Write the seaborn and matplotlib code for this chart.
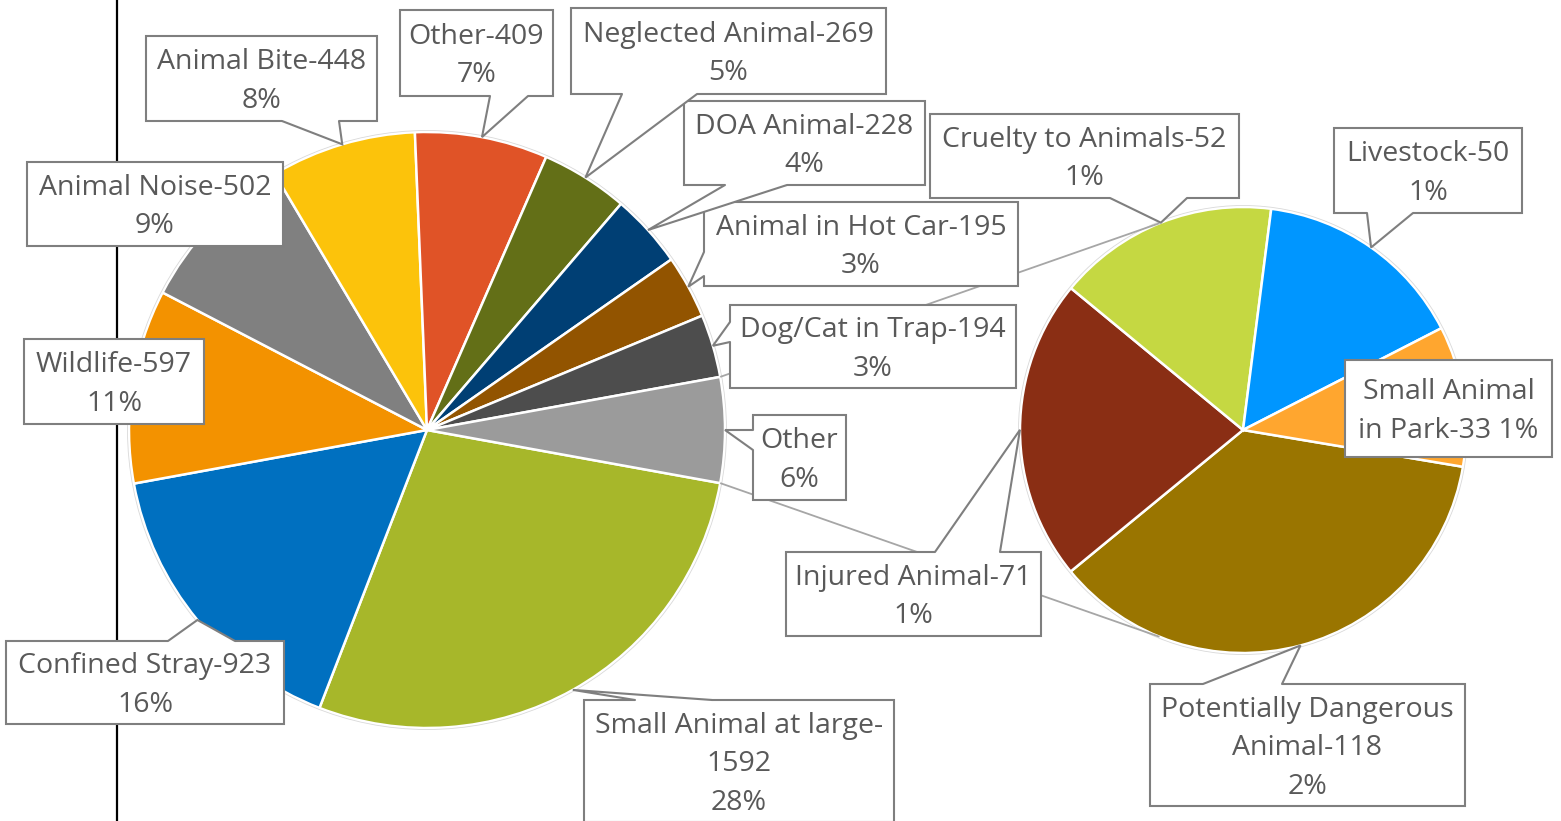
import numpy as np
import matplotlib.pyplot as plt
import seaborn as sns
from matplotlib.patches import Rectangle, Polygon, Circle

# main pie (clockwise from the lower edge of "Other")
main_labels = ["Small Animal at large", "Confined Stray", "Wildlife", "Animal Noise",
               "Animal Bite", "Other", "Neglected Animal", "DOA Animal",
               "Animal in Hot Car", "Dog/Cat in Trap"]
main_counts = [1592, 923, 597, 502, 448, 409, 269, 228, 195, 194]
main_colors = ["#A7B72A", "#0070C0", "#F39200", "#808080", "#FCC30B", "#E05327",
               "#636F17", "#003F74", "#925400", "#4D4D4D"]
other_color = "#9B9B9B"

# second pie: breakdown of "Other"
sub_labels = ["Potentially Dangerous Animal", "Injured Animal", "Cruelty to Animals",
              "Livestock", "Small Animal in Park"]
sub_counts = [118, 71, 52, 50, 33]
sub_colors = ["#9A7500", "#8A2E14", "#C5D842", "#0096FF", "#FFA62F"]

sns.set_theme(style="white")
plt.rcParams['font.family'] = ['Open Sans', 'DejaVu Sans']

W, H = 1561, 821
fig = plt.figure(figsize=(W / 100, H / 100), dpi=100)
ax = fig.add_axes([0, 0, 1, 1])

other_total = sum(sub_counts)
main_vals = main_counts + [other_total]
total = sum(main_vals)

c1, r1 = (427, H - 430), 298
c2, r2 = (1243, H - 430), 223

start1 = -180.0 * other_total / total
w1, _ = ax.pie(main_vals, colors=main_colors + [other_color], startangle=start1,
               counterclock=False, center=c1, radius=r1, frame=True,
               wedgeprops=dict(edgecolor="white", linewidth=1.8))
w2, _ = ax.pie(sub_counts, colors=sub_colors, startangle=-9.5,
               counterclock=False, center=c2, radius=r2, frame=True,
               wedgeprops=dict(edgecolor="white", linewidth=1.8))
for c, r in [(c1, r1), (c2, r2)]:
    ax.add_patch(Circle(c, r + 1.5, fill=False, edgecolor="#D9D9D9", lw=0.6, zorder=1))


def on_circle(c, r, ang):
    a = np.deg2rad(ang)
    return c[0] + r * np.cos(a), c[1] + r * np.sin(a)


# connector lines between the pies
ow = w1[-1]
for a_main, a_sub in [(ow.theta2, 112), (ow.theta1, -112)]:
    p = on_circle(c1, r1, a_main)
    q = on_circle(c2, r2, a_sub)
    ax.plot([p[0], q[0]], [p[1], q[1]], color="#A6A6A6", lw=1.3, zorder=2,
            solid_capstyle="butt")

ax.axvline(117, color="black", lw=1.6, zorder=0)

box_ec = "#7F7F7F"
txt_c = "#595959"


def callout(text, box, base=None, tip=None):
    x0, y0, x1, y1 = box
    ax.add_patch(Rectangle((x0, H - y1), x1 - x0, y1 - y0, facecolor="white",
                           edgecolor=box_ec, lw=1.5, zorder=5))
    if base is not None:
        (bx1, by1), (bx2, by2) = base
        if by1 == by2:
            d = 2 if by1 == y1 else -2
            inner = [(bx2, H - by2 + d), (bx1, H - by1 + d)]
        else:
            d = 2 if bx1 == x0 else -2
            inner = [(bx2 + d, H - by2), (bx1 + d, H - by1)]
        pts = [(bx1, H - by1), tip, (bx2, H - by2)]
        ax.add_patch(Polygon(pts + inner, closed=True, facecolor="white",
                             edgecolor="none", zorder=6))
        ax.plot([p[0] for p in pts], [p[1] for p in pts], color=box_ec, lw=1.5,
                zorder=7, solid_joinstyle="miter")
    ax.text((x0 + x1) / 2, H - (y0 + y1) / 2 - 3, text, ha="center", va="center",
            multialignment="center", fontsize=20.5, color=txt_c, zorder=8,
            linespacing=1.5)


def pct(v):
    return f"{round(100 * v / total)}%"


def mid_tip(w, c, r):
    return on_circle(c, r, (w.theta1 + w.theta2) / 2)


# label layout: box (x0, y0, x1, y1) in pixels from top-left, pointer base points
main_layout = {
    "Small Animal at large": ((584, 700, 894, 822), [(635, 700), (712, 700)]),
    "Confined Stray": ((6, 641, 284, 724), [(168, 641), (235, 641)]),
    "Wildlife": ((24, 339, 204, 424), None),
    "Animal Noise": ((27, 162, 283, 246), None),
    "Animal Bite": ((146, 36, 377, 121), [(282, 121), (339, 121)]),
    "Other": ((400, 10, 553, 96), [(490, 96), (528, 96)]),
    "Neglected Animal": ((571, 8, 886, 94), [(622, 94), (697, 94)]),
    "DOA Animal": ((684, 101, 925, 185), [(725, 185), (787, 185)]),
    "Animal in Hot Car": ((704, 202, 1018, 286), [(704, 252), (704, 276)]),
    "Dog/Cat in Trap": ((730, 305, 1016, 388), [(730, 322), (730, 342)]),
}
sub_layout = {
    "Potentially Dangerous Animal": ((1150, 684, 1465, 806), [(1203, 684), (1282, 684)]),
    "Injured Animal": ((786, 552, 1041, 636), [(935, 552), (1000, 552)]),
    "Cruelty to Animals": ((930, 114, 1239, 198), [(1110, 198), (1187, 198)]),
    "Livestock": ((1334, 128, 1522, 213), [(1367, 213), (1413, 213)]),
    "Small Animal in Park": ((1345, 360, 1552, 457), None),
}

for w, lab, v in zip(w1, main_labels, main_counts):
    box, base = main_layout[lab]
    if lab == "Small Animal at large":
        text = f"{lab}-\n{v}\n{pct(v)}"
    else:
        text = f"{lab}-{v}\n{pct(v)}"
    callout(text, box, base, mid_tip(w, c1, r1) if base else None)

callout(f"Other\n{pct(other_total)}", (753, 415, 846, 500),
        [(753, 430), (753, 450)], mid_tip(w1[-1], c1, r1))

for w, lab, v in zip(w2, sub_labels, sub_counts):
    box, base = sub_layout[lab]
    if lab == "Potentially Dangerous Animal":
        text = f"Potentially Dangerous\nAnimal-{v}\n{pct(v)}"
    elif lab == "Small Animal in Park":
        text = f"Small Animal\nin Park-{v} {pct(v)}"
    else:
        text = f"{lab}-{v}\n{pct(v)}"
    callout(text, box, base, mid_tip(w, c2, r2) if base else None)

ax.set_xlim(0, W)
ax.set_ylim(0, H)
ax.set_aspect("equal")
ax.axis("off")
fig.savefig("out.png", dpi=100, facecolor="white")
